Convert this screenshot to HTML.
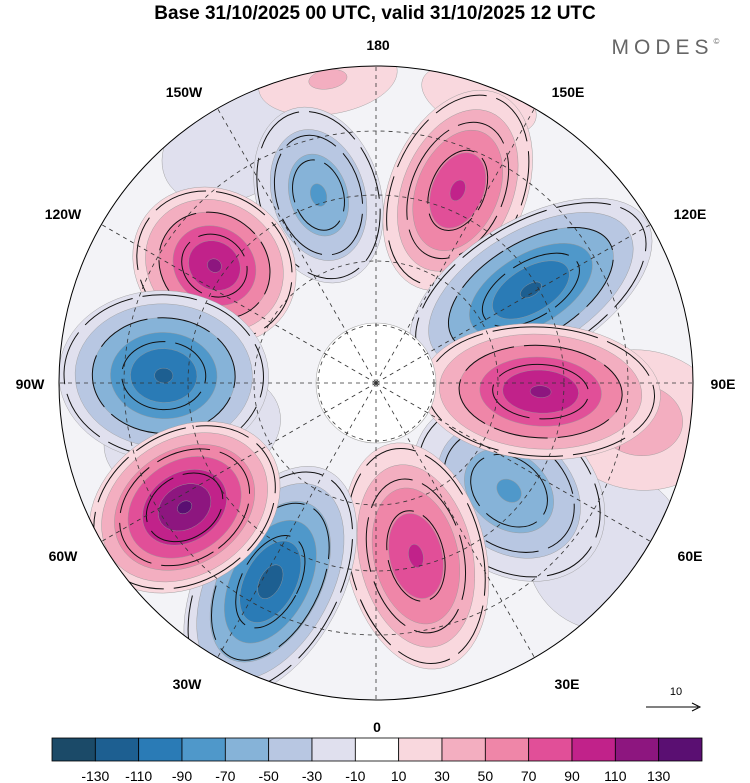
<!DOCTYPE html>
<html><head><meta charset="utf-8"><style>
body{margin:0;background:#fff;}
svg{display:block;font-family:"Liberation Sans",sans-serif;}
</style></head><body>
<svg id="c" width="750" height="783" viewBox="0 0 750 783">
<text x="375" y="19" text-anchor="middle" font-size="19" font-weight="bold">Base 31/10/2025 00 UTC, valid 31/10/2025 12 UTC</text>
<text x="668" y="54" text-anchor="middle" font-size="21" fill="#666" letter-spacing="5">MODES<tspan font-size="8" dy="-10">©</tspan></text>
<defs><clipPath id="cp"><circle cx="376" cy="383" r="317"/></clipPath></defs>
<g id="map" clip-path="url(#cp)"></g>
<circle cx="376" cy="383" r="317" fill="none" stroke="#000" stroke-width="1"/>
<g id="labels"></g>
<g id="cbar"></g>
<text x="676" y="695" text-anchor="middle" font-size="11">10</text>
<line x1="646" y1="707" x2="698" y2="707" stroke="#000" stroke-width="1"/>
<path d="M692,703 L700,707 L692,711" fill="none" stroke="#000"/>
</svg>
<script>
const levels=[-130,-110,-90,-70,-50,-30,-10,10,30,50,70,90,110,130];
const colors=["#1b4a68","#1d5f91","#2a7bb6","#4f98ca","#86b3d8","#b8c7e2","#e0e0ee","#ffffff","#f9d8de","#f3aec0","#ef86a8","#e14f98","#c1228a","#8d167f","#5a0f72"];
const lonLabels=["0","30E","60E","90E","120E","150E","180","150W","120W","90W","60W","30W"];
const blobLon=[-163,157,-126,121,-92,87,-57,51,-28,13,-171,82,54,-150,-75,160];
const blobRf=[0.62,0.66,0.63,0.57,0.67,0.52,0.72,0.54,0.71,0.56,0.97,0.84,0.9,0.88,0.6,0.95];
const blobVal=[-75,95,115,-115,-115,115,135,-75,-120,95,35,45,-30,-25,-20,30];
const blobAt=[62,68,75,70,85,68,78,80,72,70,70,70,80,80,60,60];
const blobAr=[90,105,85,135,105,120,102,105,125,115,35,85,80,55,90,30];
const NS="http://www.w3.org/2000/svg";
const cx=376,cy=383,R=317;
const map=document.getElementById('map');
function mk(t,a,p){const e=document.createElementNS(NS,t);for(const k in a)e.setAttribute(k,a[k]);(p||map).appendChild(e);return e;}
function pos(lon,rf){const a=lon*Math.PI/180;return [cx+R*rf*Math.sin(a),cy+R*rf*Math.cos(a)];}
const bg=mk('circle',{cx:cx,cy:cy,r:R,fill:"#f3f3f7"});


function colorFor(v){let i=0;while(i<levels.length&&v>levels[i])i++;return colors[i];}
const order=blobVal.map((v,i)=>i).sort((a,b)=>Math.abs(blobVal[a])-Math.abs(blobVal[b]));
order.forEach(i=>{
  const val=blobVal[i];
  const [x,y]=pos(blobLon[i],blobRf[i]);
  const rot=-blobLon[i];
  const g=mk('g',{transform:`translate(${x},${y}) rotate(${rot})`});
  
  
  const av=Math.abs(val),sg=Math.sign(val);
  for(let L=10;L<av;L+=20){
    const s=Math.pow((av-L)/(av-10),0.8);
    const e=mk('ellipse',{cx:0,cy:0,rx:blobAt[i]*s,ry:blobAr[i]*s,fill:colorFor(sg*(L+1)),stroke:"#999",'stroke-width':0.4},g);
    
    
  }
  if(av>50){[0.95,0.68,0.4].forEach(f=>{
    const e=mk('ellipse',{cx:0,cy:0,rx:blobAt[i]*f,ry:blobAr[i]*f,fill:"none",stroke:"#111",'stroke-width':1,'stroke-dasharray':"55 10"},g);
    
    
  });}
});
const pole=mk('circle',{cx:cx,cy:cy,r:60,fill:"#fff",stroke:"#aaa",'stroke-width':0.6});


[58,122,188,252].forEach(r=>{
  const c=mk('circle',{cx:cx,cy:cy,r:r,fill:"none",stroke:"#333",'stroke-width':0.8,'stroke-dasharray':"4 4"});
  
  
});
for(let k=0;k<12;k++){
  const [x,y]=pos(k*30,1);
  const l=mk('line',{x1:cx,y1:cy,x2:x,y2:y,stroke:"#333",'stroke-width':0.8,'stroke-dasharray':"4 4"});
  
  
}
const labX=[377,567,690,723,690,568,378,184,63,30,63,187];
const labY=[732,689,561,389,219,97,50,97,219,389,561,689];
const lab=document.getElementById('labels');
lonLabels.forEach((t,k)=>{
  const e=mk('text',{x:labX[k],y:labY[k],'text-anchor':'middle','font-size':14,'font-weight':'bold'},lab);
  e.textContent=t;
  
  
});
const cb=document.getElementById('cbar');
const x0=52,w=650/colors.length;
colors.forEach((c,i)=>{
  const r=mk('rect',{x:x0+i*w,y:738,width:w,height:23,fill:c,stroke:"#000",'stroke-width':0.8},cb);
  
  
});
levels.forEach((v,i)=>{
  const t=mk('text',{x:x0+(i+1)*w,y:781,'text-anchor':'middle','font-size':14},cb);
  t.textContent=v;
  
  
});
</script>
</body></html>
